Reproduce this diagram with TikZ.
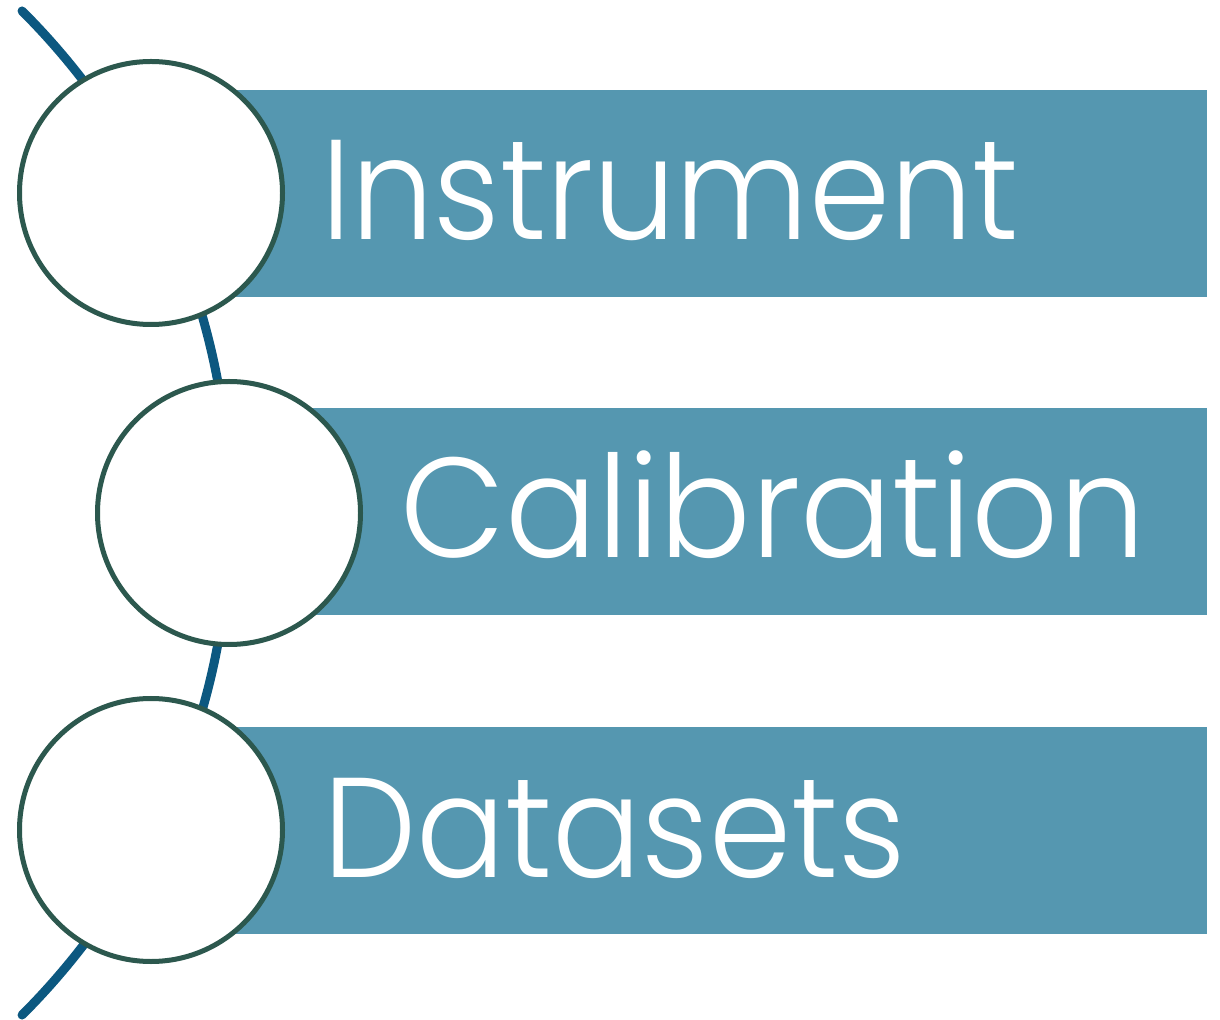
\documentclass[tikz,border=0pt]{standalone}
\usepackage{fontspec}
\setmainfont{Poppins}[UprightFont=* Light]
\definecolor{barblue}{RGB}{85,151,176}
\definecolor{ringgreen}{RGB}{44,88,78}
\definecolor{arcblue}{RGB}{12,88,128}
\newcommand{\narrowtext}[2][0.93]{\scalebox{#1}[1]{#2}}
\tikzset{
  stage/.style={circle, draw=ringgreen, line width=2.5pt, fill=white,
                minimum size=131.5pt, inner sep=0pt},
  band/.style={fill=barblue},
  stagetext/.style={anchor=base west, inner sep=0pt, text=white,
                    font=\fontsize{71}{71}\selectfont}
}
\begin{document}
\begin{tikzpicture}[x=0.5pt, y=-0.5pt]
\useasboundingbox (0, 0) rectangle (1220, 1020);
\fill [band] (151, 90) rectangle (1207, 297);
\fill [band] (229, 408) rectangle (1207, 615);
\fill [band] (151, 727) rectangle (1207, 934);
\draw [arcblue, line width=4.5pt, line cap=round]
  (-480, 513) ++(45:710) arc [start angle=45, end angle=-45, radius=710];
\node [stage] (instrument) at (151, 193) {};
\node [stage] (calibration) at (229, 513) {};
\node [stage] (datasets) at (151, 830) {};
\node [stagetext] (t1) at (321, 240) {\narrowtext[0.917]{Instrument}};
\node [stagetext] (t2) at (400, 558) {\narrowtext[0.958]{Calibration}};
\node [stagetext] (t3) at (323, 877) {\narrowtext{Datasets}};
\end{tikzpicture}
\end{document}
